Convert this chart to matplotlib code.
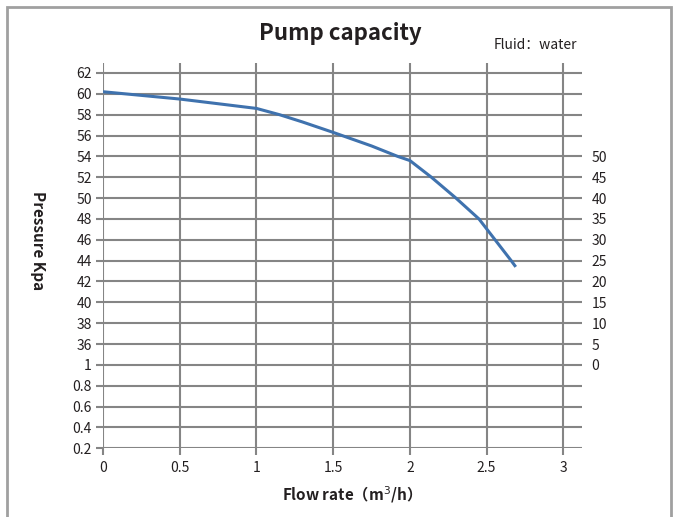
import matplotlib
matplotlib.use('Agg')
import matplotlib.pyplot as plt
from matplotlib.patches import Rectangle

plt.rcParams['font.family'] = ['Noto Sans CJK SC', 'DejaVu Sans']

# curve
flow = [0, 0.5, 1.0, 1.15, 1.3, 1.5, 1.75, 1.92, 2.0, 2.14, 2.3, 2.45, 2.555, 2.66, 2.69]
pressure = [60.2, 59.5, 58.6, 58.0, 57.3, 56.3, 55.0, 54.0, 53.6, 52.0, 50.0, 48.0, 46.0, 44.0, 43.4]

x_ticks = [0, 0.5, 1, 1.5, 2, 2.5, 3]
x_labels = ['0', '0.5', '1', '1.5', '2', '2.5', '3']
left_labels = ['62', '60', '58', '56', '54', '52', '50', '48', '46', '44', '42',
               '40', '38', '36', '1', '0.8', '0.6', '0.4', '0.2']
right_labels = ['50', '45', '40', '35', '30', '25', '20', '15', '10', '5', '0']

grid_c = '#858585'
text_c = '#231f20'

fig = plt.figure(figsize=(6.78, 5.17), dpi=100)
ax = fig.add_axes([0.152, 0.133, 0.706, 0.746])

# left labels sit on an evenly spaced scale, 2 units apart from 62 down
left_pos = [62 - 2 * i for i in range(len(left_labels))]
right_pos = left_pos[4:4 + len(right_labels)]

ax.plot(flow, pressure, color='#3f72ae', lw=2.2, zorder=3,
        solid_joinstyle='round', solid_capstyle='butt')

ax.set_xlim(0, 3.12)
ax.set_ylim(left_pos[-1], 63)
ax.set_xticks(x_ticks)
ax.set_xticklabels(x_labels)
ax.set_yticks(left_pos)
ax.set_yticklabels(left_labels)
ax.grid(True, color=grid_c, lw=1.5)
ax.set_axisbelow(True)
for s in ax.spines.values():
    s.set_visible(False)
ax.tick_params(axis='both', direction='out', length=5, width=1.5, color=grid_c,
               labelsize=10, labelcolor=text_c)
ax.tick_params(axis='y', pad=3)
ax.tick_params(axis='x', pad=4)

ax2 = ax.twinx()
ax2.set_ylim(ax.get_ylim())
ax2.set_yticks(right_pos)
ax2.set_yticklabels(right_labels)
ax2.tick_params(axis='y', length=0, pad=7, labelsize=10, labelcolor=text_c)
for s in ax2.spines.values():
    s.set_visible(False)

fig.text(0.502, 0.935, 'Pump capacity', ha='center', va='center',
         fontsize=16, fontweight='bold', color=text_c)
fig.text(0.79, 0.914, 'Fluid：water', ha='center', va='center',
         fontsize=10, color=text_c)
fig.text(0.056, 0.535, 'Pressure Kpa', ha='center', va='center', rotation=270,
         fontsize=11, fontweight='bold', color=text_c)
fig.text(0.512, 0.044, 'Flow rate（m$^3$/h）', ha='center', va='center',
         fontsize=11, fontweight='bold', color=text_c)

fig.patches.append(Rectangle((7 / 678, -0.1), 664 / 678, 1 - 7 / 517 + 0.1,
                             transform=fig.transFigure, fill=False,
                             edgecolor='#a0a0a0', lw=2))

fig.savefig('out.png', dpi=100)
